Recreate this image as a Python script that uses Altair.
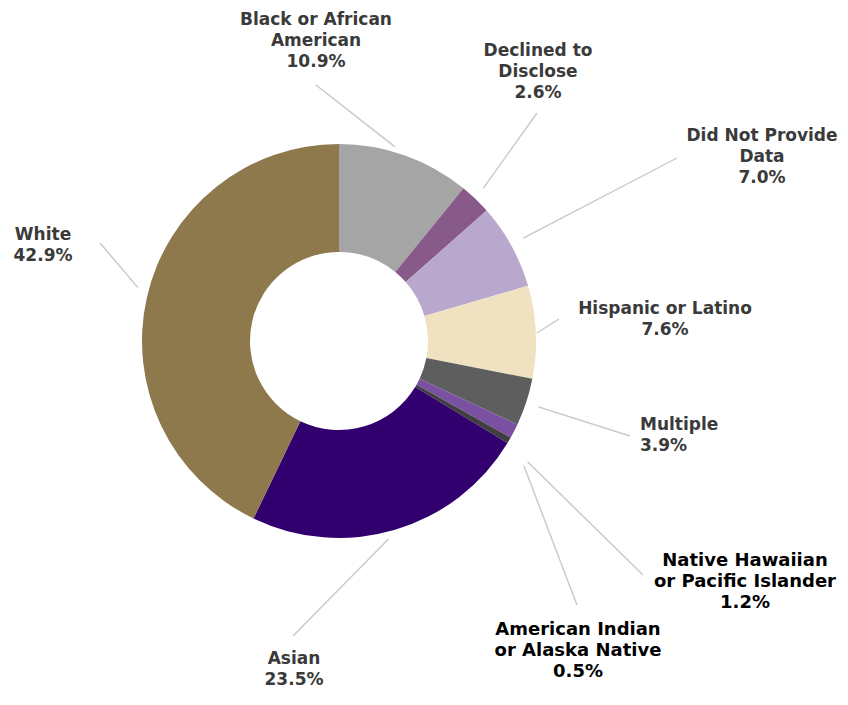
import math
import altair as alt
import pandas as pd

# ---- data ----
categories = [
    "Black or African American", "Declined to Disclose", "Did Not Provide Data",
    "Hispanic or Latino", "Multiple", "Native Hawaiian or Pacific Islander",
    "American Indian or Alaska Native", "Asian", "White",
]
values = [10.9, 2.6, 7.0, 7.6, 3.9, 1.2, 0.5, 23.5, 42.9]
label_names = [
    "Black or African\nAmerican", "Declined to\nDisclose", "Did Not Provide\nData",
    "Hispanic or Latino", "Multiple", "Native Hawaiian\nor Pacific Islander",
    "American Indian\nor Alaska Native", "Asian", "White",
]
colors = ["#a5a5a5", "#885a89", "#b8a8cd", "#f0e2c1", "#5e5e5e",
          "#7a51a0", "#3f3f3f", "#32006e", "#8d794c"]

# ---- layout (screen pixels) ----
W, H = 832, 680
CX, CY = 339, 341          # donut centre on screen
R_OUT, R_IN = 197, 89
label_pos = [(316, 25), (538, 56), (762, 141), (665, 314), (640, 430),
             (745, 566), (578, 635), (294, 664), (43, 240)]
label_style = ["c", "c", "c", "c", "l", "b", "b", "c", "c"]
leader_end = [(316, 85), (537, 113), (677, 158), (559, 319), (630, 436),
              (643, 575), (577, 605), (293, 636), (100, 243)]
leader_r = [202, 210, 211, 198, 210, 224, 223, 204, 208]
leader_nudge = [-3.5, -0.5, -0.3, 0.3, 0.2, 5.4, 3.7, 2.5, 2.0]

total = sum(values)
df = pd.DataFrame({"category": categories, "value": values,
                   "idx": list(range(len(values)))})

rows_text, rows_lead = [], []
cum = 0.0
for i, (c, v) in enumerate(zip(categories, values)):
    mid = (cum + v / 2) / total * 360 + leader_nudge[i]
    cum += v
    a = math.radians(mid)
    sx = CX + leader_r[i] * math.sin(a)
    sy = CY - leader_r[i] * math.cos(a)
    rows_lead.append({"x": sx, "y": sy, "x2": leader_end[i][0], "y2": leader_end[i][1]})
    rows_text.append({"text": f"{label_names[i]}\n{v:.1f}%", "x": label_pos[i][0],
                      "y": label_pos[i][1], "style": label_style[i]})
tdf = pd.DataFrame(rows_text)
ldf = pd.DataFrame(rows_lead)

xs = alt.Scale(domain=[8, 8 + W], range=[0, W])
ys = alt.Scale(domain=[8, 8 + H], range=[0, H])

arc = alt.Chart(df).mark_arc(innerRadius=R_IN, outerRadius=R_OUT).encode(
    theta=alt.Theta("value:Q", stack=True),
    order=alt.Order("idx:Q"),
    color=alt.Color("category:N", scale=alt.Scale(domain=categories, range=colors), legend=None),
    x=alt.value(CX - 8), y=alt.value(CY - 8),
)

leaders = alt.Chart(ldf).mark_rule(color="#c8c8c8", strokeWidth=1.4).encode(
    x=alt.X("x:Q", scale=xs, axis=None), y=alt.Y("y:Q", scale=ys, axis=None),
    x2="x2:Q", y2="y2:Q",
)

def text_layer(style, align, size, color):
    return alt.Chart(tdf).transform_filter(alt.datum.style == style).mark_text(
        align=align, baseline="alphabetic", lineBreak="\n", lineHeight=21,
        font="DejaVu Sans", fontWeight="bold", fontSize=size, color=color,
    ).encode(x=alt.X("x:Q", scale=xs, axis=None), y=alt.Y("y:Q", scale=ys, axis=None),
             text="text:N")

chart = alt.layer(
    leaders, arc,
    text_layer("c", "center", 17, "#3a3a3a"),
    text_layer("l", "left", 17, "#3a3a3a"),
    text_layer("b", "center", 18, "#000000"),
).properties(width=W, height=H, autosize="none", padding=0).configure_view(stroke=None)

chart.save("out.html", embed_options={"renderer": "svg", "actions": False})
